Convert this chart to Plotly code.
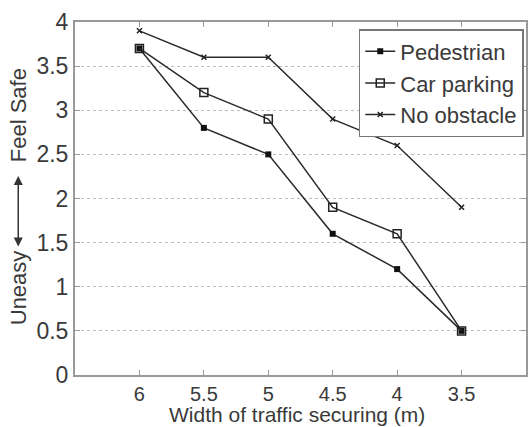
import plotly.graph_objects as go

widths = [6, 5.5, 5, 4.5, 4, 3.5]
pedestrian = [3.7, 2.8, 2.5, 1.6, 1.2, 0.5]
car_parking = [3.7, 3.2, 2.9, 1.9, 1.6, 0.5]
no_obstacle = [3.9, 3.6, 3.6, 2.9, 2.6, 1.9]
y_ticks = [0, 0.5, 1, 1.5, 2, 2.5, 3, 3.5, 4]
y_tick_labels = ["0", "0.5", "1", "1.5", "2", "2.5", "3", "3.5", "4"]
x_ticks = [6, 5.5, 5, 4.5, 4, 3.5]
x_tick_labels = ["6", "5.5", "5", "4.5", "4", "3.5"]

FONT = "Liberation Sans, Arial, sans-serif"
LINE = "#2a2a2a"
TXT = "#3a3a3a"

fig = go.Figure()
fig.add_trace(go.Scatter(x=widths, y=pedestrian, name="Pedestrian", mode="lines+markers",
                         line=dict(color=LINE, width=1.5),
                         marker=dict(symbol="square", size=6, color="#111")))
fig.add_trace(go.Scatter(x=widths, y=car_parking, name="Car parking", mode="lines+markers",
                         line=dict(color=LINE, width=1.5),
                         marker=dict(symbol="square-open", size=8, color="#222", line=dict(width=1.5))))
fig.add_trace(go.Scatter(x=widths, y=no_obstacle, name="No obstacle", mode="lines+markers",
                         line=dict(color=LINE, width=1.5),
                         marker=dict(symbol="x-thin-open", size=5, color="#222", line=dict(width=1.5))))

B = 52
fig.update_layout(
    width=529, height=427,
    margin=dict(l=75, r=1, t=22, b=B),
    plot_bgcolor="white", paper_bgcolor="white",
    font=dict(family=FONT, size=22, color=TXT),
    showlegend=True,
    legend=dict(x=0.995, y=0.98, xanchor="right", yanchor="top",
                bgcolor="white", bordercolor="#777", borderwidth=1.5,
                font=dict(size=22, color=TXT),
                tracegroupgap=0, itemwidth=30),
    xaxis=dict(range=[6.5, 3.0], tickvals=x_ticks, ticktext=x_tick_labels,
               showgrid=False, zeroline=False, showline=True, linecolor="#999", linewidth=2,
               mirror="ticks", ticks="inside", ticklen=5, tickcolor="#999",
               tickfont=dict(size=20, color=TXT)),
    yaxis=dict(range=[0, 4], tickvals=y_ticks, ticktext=y_tick_labels,
               showgrid=True, gridcolor="#bbbbbb", griddash="dot", gridwidth=1,
               zeroline=False, showline=True, linecolor="#999", linewidth=2,
               mirror="ticks", ticks="inside", ticklen=5, tickcolor="#999",
               tickfont=dict(size=23, color=TXT)),
)

plot_h = 427 - 22 - B
bottom_px = 427 - B

# x-axis title placed just under the tick labels
fig.add_annotation(xref="paper", yref="paper", x=(298 - 75) / 453, y=-(427 - bottom_px) / plot_h,
                   text="Width of traffic securing (m)", showarrow=False, borderpad=0,
                   font=dict(size=21, color=TXT), xanchor="center", yanchor="bottom")

# y-axis label with double arrow
lab_x = (18 - 75) / 453
fig.add_annotation(xref="paper", yref="paper", x=lab_x, y=(bottom_px - 115) / plot_h,
                   text="Feel Safe", showarrow=False, textangle=-90,
                   font=dict(size=22, color=TXT), xanchor="center", yanchor="middle")
fig.add_annotation(xref="paper", yref="paper", x=lab_x, y=(bottom_px - 288) / plot_h,
                   text="Uneasy", showarrow=False, textangle=-90,
                   font=dict(size=22, color=TXT), xanchor="center", yanchor="middle")
fig.add_annotation(xref="paper", yref="paper", x=lab_x, y=(bottom_px - 176) / plot_h,
                   ax=0, ay=72, axref="pixel", ayref="pixel",
                   text="", showarrow=True, arrowhead=2, arrowside="end+start",
                   arrowsize=1.2, arrowwidth=1.5, arrowcolor="#333")

fig.write_html("out.html")
